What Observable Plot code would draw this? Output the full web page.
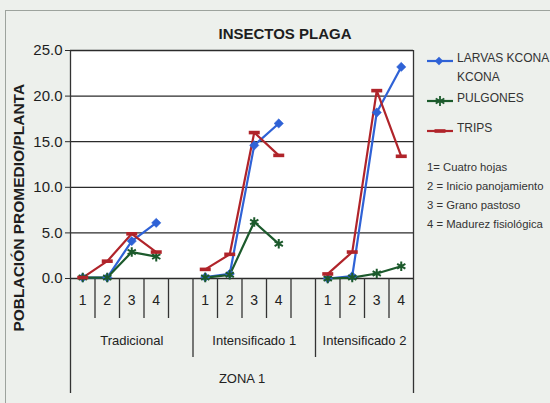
<!DOCTYPE html>
<html><head><meta charset="utf-8">
<script src="https://cdn.jsdelivr.net/npm/d3@7"></script>
<script src="https://cdn.jsdelivr.net/npm/@observablehq/plot@0.6"></script>
<style>
html,body{margin:0;padding:0;background:#edf0ec;}
#wrap{position:relative;width:550px;height:403px;overflow:hidden;font-family:"Liberation Sans",Arial,sans-serif;color:#1e1e1e;}
#frame{position:absolute;left:5px;top:10px;width:600px;height:450px;border:1px solid #9da39d;box-sizing:border-box;}
#chart{position:absolute;left:0;top:0;}
.t{position:absolute;white-space:nowrap;line-height:1;}
</style></head><body>
<div id="wrap"><div id="frame"></div><div id="chart"></div></div>
<script>
// ---- data ----
const groups = ["Tradicional", "Intensificado 1", "Intensificado 2"];
const slotsPerGroup = [5, 5, 4];            // Excel category slots (incl. blank ones)
const stages = ["1", "2", "3", "4"];
const zone = "ZONA 1";
const larvas   = [0.1, 0.1, 4.1, 6.1,   0.15, 0.5, 14.6, 17.0,   0.0, 0.25, 18.2, 23.2];
const pulgones = [0.1, 0.1, 2.9, 2.4,   0.1, 0.4, 6.2, 3.8,      0.0, 0.1, 0.55, 1.35];
const trips    = [0.1, 1.9, 4.9, 2.9,   1.0, 2.65, 16.0, 13.5,   0.5, 2.9, 20.6, 13.4];
const yTicks = [0, 5, 10, 15, 20, 25];
const title = "INSECTOS PLAGA";
const yLabel = "POBLACIÓN PROMEDIO/PLANTA";
const legendLabels = [["LARVAS KCONA", "KCONA"], ["PULGONES"], ["TRIPS"]];
const notes = ["1= Cuatro hojas", "2 = Inicio panojamiento", "3 = Grano pastoso", "4 = Madurez fisiológica"];

// ---- styles ----
const colors = ["#2f62d6", "#1c5a2c", "#b0242a"];
const W = 550, H = 403;
const M = {left: 70, right: 137, top: 50, bottom: 125};

// ---- derived table ----
const groupStart = [];
let acc = 0;
for (const n of slotsPerGroup) { groupStart.push(acc); acc += n; }
const totalSlots = acc;
const allSeries = [larvas, pulgones, trips];
const rows = [];
allSeries.forEach((vals, s) => {
  vals.forEach((v, i) => {
    const g = Math.floor(i / stages.length), k = i % stages.length;
    rows.push({series: s, group: g, stage: stages[k], slot: groupStart[g] + k + 0.5, value: v});
  });
});
const stageLabels = [];
groups.forEach((g, gi) => stages.forEach((st, k) => stageLabels.push({slot: groupStart[gi] + k + 0.5, text: st})));
const innerTicks = [];
groups.forEach((g, gi) => { for (let k = 1; k < slotsPerGroup[gi]; k++) innerTicks.push(groupStart[gi] + k); });
const groupSeps = groupStart.slice(1);
const groupCenters = groups.map((g, gi) => ({slot: groupStart[gi] + slotsPerGroup[gi] / 2, text: g}));

// pixel offset below the zero line -> value in y units
const plotH = H - M.top - M.bottom;
const below = px => -px * 25 / plotH;

const dash = {draw(ctx) { ctx.moveTo(-5.5, -1.8); ctx.lineTo(5.5, -1.8); ctx.lineTo(5.5, 1.8); ctx.lineTo(-5.5, 1.8); ctx.closePath(); }};

const sub = s => rows.filter(d => d.series === s);

const plot = Plot.plot({
  width: W, height: H,
  marginLeft: M.left, marginRight: M.right, marginTop: M.top, marginBottom: M.bottom,
  style: {background: "transparent", fontFamily: "Liberation Sans, Arial, sans-serif", color: "#1e1e1e", overflow: "visible"},
  x: {domain: [0, totalSlots], axis: null},
  y: {domain: [0, 25], axis: null},
  marks: [
    Plot.frame({fill: "white", stroke: null}),
    Plot.ruleY(yTicks, {stroke: "#2b2b2b", strokeWidth: 1.3}),
    Plot.axisY({ticks: yTicks, tickFormat: d3.format(".1f"), tickSize: 5, tickPadding: 3, fontSize: 15, label: null, stroke: "#2b2b2b"}),
    // category axis structure
    Plot.ruleX([0, totalSlots], {x: d => d, y1: 25, y2: below(115), stroke: "#333", strokeWidth: 1.3}),
    Plot.ruleX(groupSeps, {x: d => d, y1: 0, y2: below(79), stroke: "#333", strokeWidth: 1.3}),
    Plot.ruleX(innerTicks, {x: d => d, y1: 0, y2: below(40), stroke: "#333", strokeWidth: 1.3}),
    Plot.text(stageLabels, {x: "slot", y: 0, dy: 22, text: "text", fontSize: 14, fill: "#222"}),
    Plot.text(groupCenters, {x: "slot", y: 0, dy: 62, text: "text", fontSize: 13, fill: "#222"}),
    Plot.text([zone], {x: totalSlots / 2, y: 0, dy: 100, text: d => d, fontSize: 13, fill: "#222"}),
    // series
    ...[0, 1, 2].map(s => Plot.line(sub(s), {x: "slot", y: "value", z: "group", stroke: colors[s], strokeWidth: 2.2})),
    Plot.dot(sub(0), {x: "slot", y: "value", symbol: "diamond2", r: 4.2, fill: colors[0], stroke: colors[0], strokeWidth: 0.5}),
    Plot.dot(sub(1), {x: "slot", y: "value", symbol: "asterisk", r: 4.5, stroke: colors[1], strokeWidth: 2}),
    Plot.dot(sub(2), {x: "slot", y: "value", symbol: dash, r: 3, fill: colors[2], stroke: "none"})
  ]
});
document.getElementById("chart").appendChild(plot);

// ---- text overlays ----
const wrap = document.getElementById("wrap");
function addText(txt, css) {
  const d = document.createElement("div");
  d.className = "t"; d.textContent = txt;
  Object.assign(d.style, css);
  wrap.appendChild(d);
  return d;
}
addText(title, {left: "285px", top: "26px", transform: "translateX(-50%)", fontWeight: "bold", fontSize: "15px"});
const yl = addText(yLabel, {fontWeight: "bold", fontSize: "15.5px"});
{
  const w = yl.offsetWidth, h = yl.offsetHeight;
  yl.style.left = (19 - w / 2) + "px";
  yl.style.top = (208 - h / 2) + "px";
  yl.style.transform = "rotate(-90deg)";
}

// legend
const legendY = [58, 98, 128];
const markerSvg = s => s === 0
  ? `<rect x="9" y="1" width="6" height="6" transform="rotate(45 12 4)" fill="${colors[0]}"/>`
  : s === 1
  ? `<g stroke="${colors[1]}" stroke-width="1.8"><line x1="13" y1="-1" x2="13" y2="9"/><line x1="8.7" y1="1.5" x2="17.3" y2="6.5"/><line x1="8.7" y1="6.5" x2="17.3" y2="1.5"/></g>`
  : `<rect x="7.5" y="2.2" width="11" height="3.6" fill="${colors[2]}"/>`;
legendLabels.forEach((lines, s) => {
  const y = legendY[s];
  const sw = document.createElement("div");
  sw.className = "t";
  Object.assign(sw.style, {left: "427px", top: (y - 5) + "px"});
  sw.innerHTML = `<svg width="27" height="10" viewBox="0 -1 27 10" style="overflow:visible"><line x1="0" y1="4" x2="26" y2="4" stroke="${colors[s]}" stroke-width="2.2"/>${markerSvg(s)}</svg>`;
  wrap.appendChild(sw);
  lines.forEach((ln, i) => addText(ln, {left: "457px", top: (y - 6 + i * 19) + "px", fontSize: "12px", color: "#333"}));
});
notes.forEach((n, i) => addText(n, {left: "427px", top: (162 + i * 19) + "px", fontSize: "11.3px", color: "#333"}));
</script>
</body></html>
